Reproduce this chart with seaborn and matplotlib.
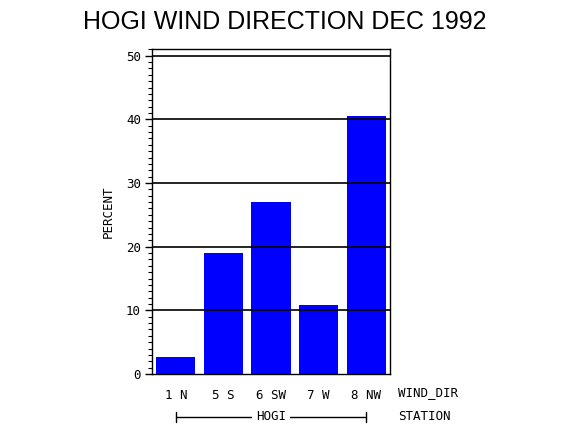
"""
HOGI wind direction, Dec 1992 - percentage by direction (bar chart)
"""
import matplotlib
matplotlib.use('Agg')
import matplotlib.pyplot as plt
import matplotlib.transforms as mtransforms
from matplotlib.ticker import MultipleLocator
import seaborn as sns
import pandas as pd

# datos
wind_dir = ['1 N', '5 S', '6 SW', '7 W', '8 NW']
percent = [2.7, 19.0, 27.0, 10.8, 40.6]
station = 'HOGI'
y_ticks = [0, 10, 20, 30, 40, 50]

df = pd.DataFrame({'wind_dir': wind_dir, 'percent': percent})

sns.set_style('white')
plt.rcParams['font.family'] = ['DejaVu Sans Mono']
plt.rcParams['text.color'] = 'black'
plt.rcParams['axes.labelcolor'] = 'black'
plt.rcParams['xtick.color'] = 'black'
plt.rcParams['ytick.color'] = 'black'

fig = plt.figure(figsize=(5.7, 4.3), dpi=100)
ax = fig.add_axes([0.2667, 0.1302, 0.4175, 0.7551])

sns.barplot(data=df, x='wind_dir', y='percent', color='#0000ff',
            saturation=1, width=0.82, linewidth=0, edgecolor='none', ax=ax)

ax.set_xlim(-0.5, len(wind_dir) - 0.5)
ax.set_ylim(0, 51)
ax.set_yticks(y_ticks)
ax.yaxis.set_minor_locator(MultipleLocator(1))
# las lineas de referencia van por encima de las barras
for y in y_ticks[1:]:
    ax.axhline(y, color='black', lw=1.2, zorder=3)

for s in ax.spines.values():
    s.set_color('black')
    s.set_linewidth(1.0)

ax.tick_params(axis='y', which='major', direction='out', length=5, width=1,
               labelsize=9, pad=3, left=True, color='black')
ax.tick_params(axis='y', which='minor', direction='out', length=3, width=0.8,
               left=True, color='black')
ax.tick_params(axis='x', length=0, labelsize=9, pad=11)

ax.set_xlabel('')
ax.set_ylabel('PERCENT', fontsize=9, labelpad=8)

fig.text(0.5, 0.948, 'HOGI WIND DIRECTION DEC 1992', ha='center', va='center',
         fontsize=18, family='Liberation Sans')

fig.text(398 / 570, 1 - 393 / 430, 'WIND_DIR', ha='left', va='center', fontsize=9)
fig.text(398 / 570, 1 - 417 / 430, 'STATION', ha='left', va='center', fontsize=9)

# corchete del grupo de estacion
trans = mtransforms.blended_transform_factory(ax.transData, fig.transFigure)
yb = 1 - 417 / 430
ax.plot([0, len(wind_dir) - 1], [yb, yb], color='black', lw=1, transform=trans, clip_on=False)
for xe in [0, len(wind_dir) - 1]:
    ax.plot([xe, xe], [yb - 0.012, yb + 0.012], color='black', lw=1,
            transform=trans, clip_on=False)
ax.text((len(wind_dir) - 1) / 2, yb, station, ha='center', va='center', fontsize=9,
        transform=trans, bbox=dict(facecolor='white', edgecolor='none', pad=3))

fig.savefig('out.png', dpi=100)
